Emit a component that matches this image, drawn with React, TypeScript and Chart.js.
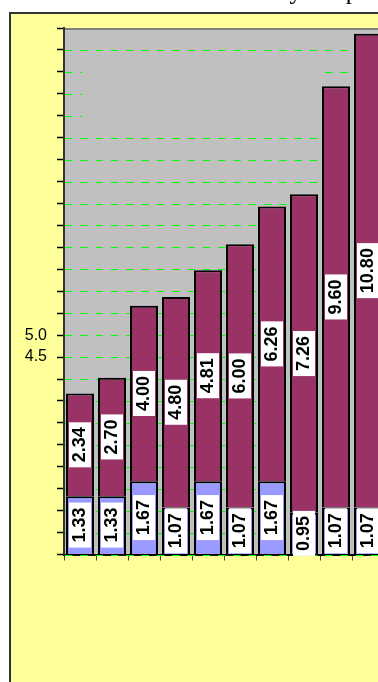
import React, { useEffect, useRef } from 'react';
import { Chart, registerables } from 'chart.js';

Chart.register(...registerables);

// Chart content
const titleText = 'Monthly Output';
const categories = ['1', '2', '3', '4', '5', '6', '7', '8', '9', '10'];
const baseValues = [1.33, 1.33, 1.67, 1.07, 1.67, 1.07, 1.67, 0.95, 1.07, 1.07];
const topValues = [2.34, 2.7, 4.0, 4.8, 4.81, 6.0, 6.26, 7.26, 9.6, 10.8];
const shownTickLabels = [4.5, 5.0];
const axisMin = 0;
const axisMax = 12;
const axisStep = 0.5;

const CANVAS_W = 400;
const CANVAS_H = 722;
const CANVAS_TOP = -40;

const PANEL_YELLOW = '#FFFF99';
const PLOT_GRAY = '#C0C0C0';
const GRID_GREEN = '#00FF00';

const decorations = {
  id: 'decorations',
  beforeDraw(chart: any) {
    const { ctx, chartArea: a } = chart;
    ctx.save();
    // outer chart panel
    ctx.fillStyle = PANEL_YELLOW;
    ctx.fillRect(10, 53, chart.width, chart.height);
    ctx.strokeStyle = '#333333';
    ctx.lineWidth = 2;
    ctx.strokeRect(10, 53, chart.width - 14, chart.height);
    // plot area
    ctx.fillStyle = PLOT_GRAY;
    ctx.fillRect(a.left, a.top, a.right - a.left, a.bottom - a.top);
    // title
    ctx.fillStyle = '#000000';
    ctx.font = '25px "Liberation Serif", "Times New Roman", serif';
    ctx.textAlign = 'left';
    ctx.textBaseline = 'alphabetic';
    ctx.fillText(titleText, 216, 38.6);
    ctx.restore();
  },
  beforeDatasetsDraw(chart: any) {
    const { ctx, chartArea: a } = chart;
    const yScale = chart.scales.y;
    ctx.save();
    // dashed horizontal grid lines at every value tick
    ctx.strokeStyle = GRID_GREEN;
    ctx.lineWidth = 1;
    ctx.setLineDash([7.5, 7.8]);
    yScale.ticks.forEach((t: any) => {
      const py = Math.round(yScale.getPixelForValue(t.value)) + 0.5;
      ctx.beginPath();
      ctx.moveTo(a.left + 1, py);
      ctx.lineTo(a.right, py);
      ctx.stroke();
    });
    ctx.setLineDash([]);
    // legend panel, filled with the plot colour
    ctx.fillStyle = PLOT_GRAY;
    ctx.fillRect(a.left + 18, a.top + 32, 239, 68);
    // plot frame, top edge
    ctx.strokeStyle = '#808080';
    ctx.lineWidth = 2;
    ctx.beginPath();
    ctx.moveTo(a.left + 1, a.top + 1);
    ctx.lineTo(a.right, a.top + 1);
    ctx.stroke();
    ctx.restore();
  },
  afterDatasetsDraw(chart: any) {
    const ctx = chart.ctx;
    ctx.save();
    ctx.font = 'bold 18px "Liberation Sans", Arial, sans-serif';
    ctx.textAlign = 'center';
    ctx.textBaseline = 'middle';
    chart.data.datasets.forEach((ds: any, di: number) => {
      const meta = chart.getDatasetMeta(di);
      meta.data.forEach((bar: any, i: number) => {
        const v = ds.data[i] as number;
        const text = v.toFixed(2);
        const { x, y, base } = bar.getProps(['x', 'y', 'base'], true);
        const cy = (y + base) / 2;
        const w = ctx.measureText(text).width + 10;
        ctx.save();
        ctx.translate(x, cy);
        ctx.rotate(-Math.PI / 2);
        ctx.fillStyle = '#FFFFFF';
        ctx.fillRect(-w / 2, -11, w, 22);
        ctx.fillStyle = '#000000';
        ctx.fillText(text, 0, 0);
        ctx.restore();
      });
    });
    ctx.restore();
  },
};

export default function App() {
  const ref = useRef<HTMLCanvasElement>(null);

  useEffect(() => {
    const canvas = ref.current;
    if (!canvas) return;
    const chart = new Chart(canvas, {
      type: 'bar',
      data: {
        labels: categories,
        datasets: [
          {
            label: 'Base',
            data: baseValues,
            backgroundColor: '#9999FF',
            borderColor: '#000000',
            borderWidth: 2,
          },
          {
            label: 'Extra',
            data: topValues,
            backgroundColor: '#993366',
            borderColor: '#000000',
            borderWidth: 2,
          },
        ],
      },
      options: {
        responsive: false,
        animation: false,
        devicePixelRatio: 1,
        layout: { padding: { top: 68, right: 16, bottom: 0, left: 0 } },
        datasets: { bar: { categoryPercentage: 1, barPercentage: 0.875 } },
        plugins: {
          legend: { display: false },
          title: { display: false },
          tooltip: { enabled: false },
        },
        scales: {
          x: {
            stacked: true,
            grid: {
              offset: true,
              drawOnChartArea: false,
              drawTicks: true,
              tickLength: 6,
              tickColor: '#444444',
              lineWidth: 1,
            },
            border: { color: '#000000', width: 2 },
            ticks: { display: false },
            afterFit: (s: any) => {
              s.height = 127.5;
            },
          },
          y: {
            stacked: true,
            min: axisMin,
            max: axisMax,
            grid: {
              drawOnChartArea: false,
              drawTicks: true,
              color: '#000000',
              tickColor: '#000000',
              tickLength: 7,
              tickWidth: 1.5,
            },
            border: { color: '#333333', width: 2 },
            ticks: {
              stepSize: axisStep,
              autoSkip: false,
              maxTicksLimit: 30,
              padding: 10,
              color: '#000000',
              font: { family: 'Liberation Sans', size: 16 },
              callback: (v: any) => (shownTickLabels.includes(Number(v)) ? Number(v).toFixed(1) : ''),
            },
            afterFit: (s: any) => {
              s.width = 64;
            },
          },
        },
      } as any,
      plugins: [decorations],
    });
    return () => chart.destroy();
  }, []);

  return (
    <div
      style={{
        position: 'fixed',
        left: 0,
        top: 0,
        width: 378,
        height: 682,
        overflow: 'hidden',
        background: '#FFFFFF',
      }}
    >
      <canvas
        ref={ref}
        width={CANVAS_W}
        height={CANVAS_H}
        style={{ position: 'absolute', left: 0, top: CANVAS_TOP, width: CANVAS_W, height: CANVAS_H }}
      />
    </div>
  );
}
